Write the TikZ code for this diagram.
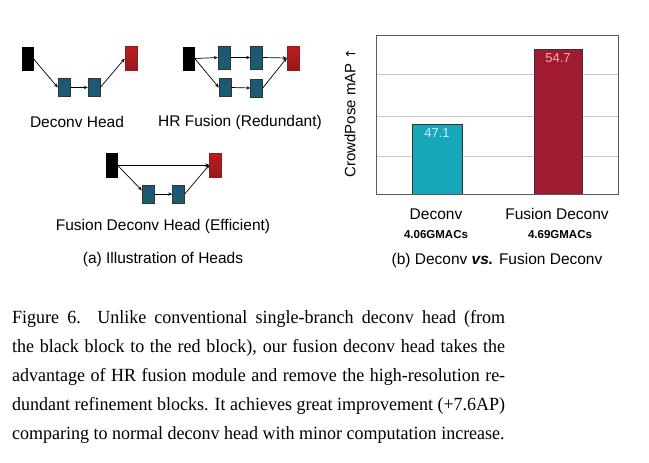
\documentclass[tikz,border=0pt]{standalone}
\usepackage{fontspec}
\newfontfamily\hv{Liberation Sans}
\newfontfamily\tm[FakeStretch=0.968]{Liberation Serif}
\newfontfamily\dv{DejaVu Sans}
\usetikzlibrary{arrows.meta,calc}
\definecolor{blkblue}{RGB}{30,85,125}
\definecolor{blkteal}{RGB}{25,95,105}
\definecolor{blkred}{RGB}{190,28,28}
\definecolor{blkred2}{RGB}{150,25,30}
\definecolor{barcyan}{RGB}{22,168,184}
\definecolor{barred}{RGB}{160,27,50}
\definecolor{framegray}{RGB}{90,90,90}
\definecolor{gridgray}{RGB}{200,200,200}
\tikzset{
  blackblk/.style={draw=black, fill=black, minimum width=11pt, minimum height=23pt, inner sep=0},
  redblk/.style={draw=blkred2, top color=blkred, bottom color=blkred2, minimum width=12pt, minimum height=24pt, inner sep=0},
  blueblk/.style={draw=black!80, top color=blkblue, bottom color=blkteal, minimum width=12pt, minimum height=18pt, inner sep=0},
  tallblue/.style={blueblk, minimum height=23pt},
  arr/.style={-{Stealth[length=4pt,width=3.2pt]}, line width=0.7pt},
  lbl/.style={font=\hv\fontsize{15.5}{18}\selectfont, inner sep=0},
  xlbl/.style={font=\hv\fontsize{15.5}{18}\selectfont, inner sep=0},
  mac/.style={font=\hv\bfseries\fontsize{11.5}{13}\selectfont, inner sep=0},
  barlbl/.style={font=\hv\fontsize{13}{15}\selectfont, inner sep=0},
}
\begin{document}
\begin{tikzpicture}[x=1pt,y=-1pt]
\path[use as bounding box, fill=white] (0,0) rectangle (649,463);

% ---- Deconv Head
\node[blackblk] (d0) at (27.5,58.5) {};
\node[redblk] (d3) at (131,58.5) {};
\node[blueblk] (d1) at (64,87.5) {};
\node[blueblk] (d2) at (94,87.5) {};
\draw[arr] (d0.east) -- (d1.west);
\draw[arr] (d1.east) -- (d2.west);
\draw[arr] (d2.east) -- (d3.west);
\node[lbl] (dl) at (77,122) {Deconv Head};

% ---- HR Fusion (Redundant)
\node[blackblk] (h0) at (189,58.5) {};
\node[tallblue] (h1) at (224,57.5) {};
\node[tallblue] (h2) at (256.5,57.5) {};
\node[redblk] (h5) at (293,58) {};
\node[blueblk] (h3) at (225,87.5) {};
\node[blueblk] (h4) at (256.5,88) {};
\draw[arr] (h0.east) -- (h1.west);
\draw[arr] (h0.east) -- (h3.west);
\draw[arr] (h1.east) -- (h2.west);
\draw[arr] (h3.east) -- (h4.west);
\draw[arr] (h2.east) -- (h5.west);
\draw[arr] (h4.east) -- (h5.west);
\node[lbl] (hl) at (240,122) {HR Fusion (Redundant)};

% ---- Fusion Deconv Head (Efficient)
\node[blackblk, minimum height=24pt] (f0) at (111.5,165) {};
\node[redblk] (f3) at (215.5,165) {};
\node[blueblk] (f1) at (148,194) {};
\node[blueblk] (f2) at (178.5,194) {};
\draw[arr] (f0.east) -- (f3.west);
\draw[arr] (f0.east) -- ($(f1.north west)!0.3!(f1.south west)$);
\draw[arr] (f1.east) -- (f2.west);
\draw[arr] (f2.east) -- (f3.west);
\node[lbl] (fl) at (163,226) {Fusion Deconv Head (Efficient)};
\node[lbl] (al) at (163,259.5) {(a) Illustration of Heads};

% ---- Bar chart
\foreach \yy in {74,116,156} \draw[gridgray, line width=0.8pt] (376,\yy) -- (618,\yy);
\draw[barcyan!100, fill=barcyan] (412,124) rectangle (462,194);
\draw[black!80, line width=0.8pt] (412,194) -- (412,124) -- (462,124) -- (462,194);
\draw[fill=barred] (534,49) rectangle (582,194);
\draw[black!80, line width=0.8pt] (534,194) -- (534,49) -- (582,49) -- (582,194);
\draw[framegray, line width=1pt] (376,35) rectangle (618,194);
\node[barlbl, text=cyan!20] (v1) at (437,133) {47.1};
\node[barlbl, text=pink!90!red] (v2) at (558,58) {54.7};
\node[font=\hv\fontsize{15}{18}\selectfont, inner sep=0, rotate=90] (yl) at (350,113) {CrowdPose mAP {\dv\fontsize{13}{15}\selectfont ↑}};
\node[xlbl] (x1) at (436,214) {Deconv};
\node[xlbl] (x2) at (557,214) {Fusion Deconv};
\node[mac] (m1) at (436,235) {4.06GMACs};
\node[mac] (m2) at (560,235) {4.69GMACs};
\node[lbl] (bl) at (497,260) {(b) Deconv \textbf{\textit{vs.}} Fusion Deconv};

% ---- Caption
\node[anchor=north west, inner sep=0, text width=493pt, align=justify,
  font=\tm\fontsize{18.6}{29}\selectfont] (cap) at (12,310)
{Figure 6.\ \ Unlike conventional single-branch deconv head (from\linebreak
the black block to the red block), our fusion deconv head takes the\linebreak
advantage of HR fusion module and remove the high-resolution re-\linebreak
dundant refinement blocks. It achieves great improvement (+7.6AP)\linebreak
comparing to normal deconv head with minor computation increase.};
\end{tikzpicture}
\end{document}
